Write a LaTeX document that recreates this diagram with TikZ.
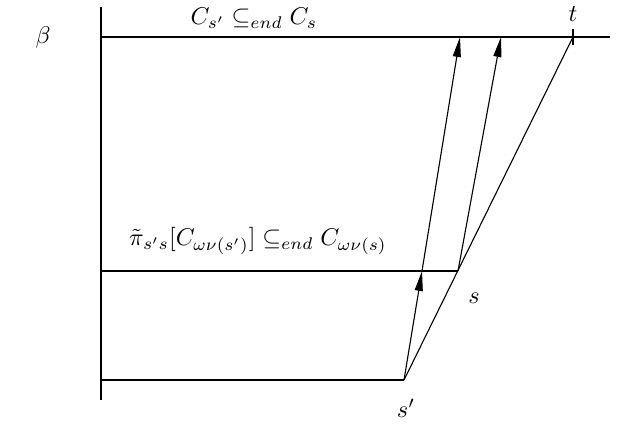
\documentclass[tikz,border=0pt]{standalone}
\usetikzlibrary{arrows.meta}
\begin{document}
\begin{tikzpicture}[x=0.45pt,y=-0.45pt,
  ln/.style={line width=0.5pt},
  arr/.style={ln,-{Triangle[length=9pt,width=3.6pt]}},
  lbl/.style={inner sep=0pt,scale=1.09}]
\useasboundingbox (0,0) rectangle (638,424);
% axis and levels
\coordinate (axtop) at (101,7);
\coordinate (axbot) at (101,400);
\coordinate (topL) at (101,37);
\coordinate (topR) at (610,37);
\coordinate (midL) at (101,271);
\coordinate (botL) at (101,380);
\coordinate (sp) at (404,380);
\coordinate (s) at (458,271);
\coordinate (t) at (573,37);
\coordinate (m1) at (422,271);
\coordinate (a1) at (460,37);
\coordinate (a2) at (501,37);
\coordinate (tu) at (573,29);
\coordinate (td) at (573,45);
\draw[ln] (axtop) -- (axbot);
\draw[ln] (topL) -- (topR);
\draw[ln] (midL) -- (s);
\draw[ln] (botL) -- (sp);
\draw[ln] (sp) -- (t);
\draw[ln] (tu) -- (td);
\draw[arr] (sp) -- (m1);
\draw[arr] (m1) -- (a1);
\draw[arr] (s) -- (a2);
% labels
\node[lbl] (beta) at (43,37) {$\beta$};
\node[lbl] (tl) at (573,14) {$t$};
\node[lbl] (sl) at (474,298) {$s$};
\node[lbl] (spl) at (406,408) {$s'$};
\node[lbl] (toplab) at (254,18) {$C_{s'}\subseteq_{end}C_s$};
\node[lbl] (midlab) at (258,241) {$\tilde{\pi}_{s's}[C_{\omega\nu(s')}]\subseteq_{end}C_{\omega\nu(s)}$};
\end{tikzpicture}
\end{document}
